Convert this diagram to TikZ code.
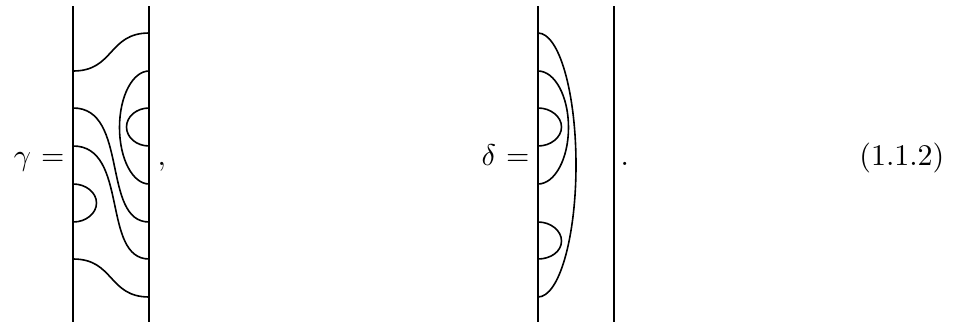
\documentclass[tikz,border=0pt]{standalone}
\usepackage{fontspec}
\begin{document}
\begin{tikzpicture}[x=1pt,y=-1pt,
  strandline/.style={line width=1.6pt,line cap=butt},
  wall/.style={line width=1.9pt},
  lbl/.style={inner sep=0pt,scale=3.0},
  tag/.style={inner sep=0pt,scale=3.0}]
\useasboundingbox (0,0) rectangle (956,322);
% gamma walls
\coordinate (gLt) at (73.2,6); \coordinate (gLb) at (73.2,322);
\coordinate (gRt) at (149.2,6); \coordinate (gRb) at (149.2,322);
\draw[wall] (gLt) -- (gLb);
\draw[wall] (gRt) -- (gRb);
% gamma strands
\coordinate (a1) at (73.2,71);  \coordinate (b1) at (149.2,33);
\coordinate (a2) at (149.2,71); \coordinate (p2) at (119.5,127.5); \coordinate (b2) at (149.2,184);
\coordinate (a3) at (149.2,108);\coordinate (p3) at (126.5,127);   \coordinate (b3) at (149.2,146);
\coordinate (a4) at (73.2,108); \coordinate (b4) at (149.2,222);
\coordinate (a5) at (73.2,146); \coordinate (b5) at (149.2,259);
\coordinate (a6) at (73.2,184); \coordinate (p6) at (96.5,203);    \coordinate (b6) at (73.2,222);
\coordinate (a7) at (73.2,259); \coordinate (b7) at (149.2,297);
\draw[strandline] (a1) to[out=0,in=180,out distance=41pt,in distance=41pt] (b1);
\draw[strandline] (a2) to[out=180,in=90,out distance=16.6pt,in distance=31.2pt] (p2)
                       to[out=-90,in=180,out distance=31.2pt,in distance=16.6pt] (b2);
\draw[strandline] (a3) to[out=180,in=90,out distance=12.7pt,in distance=10.5pt] (p3)
                       to[out=-90,in=180,out distance=10.5pt,in distance=12.7pt] (b3);
\draw[strandline] (a4) to[out=0,in=180,out distance=56pt,in distance=48pt] (b4);
\draw[strandline] (a5) to[out=0,in=180,out distance=56pt,in distance=48pt] (b5);
\draw[strandline] (a6) to[out=0,in=90,out distance=12.7pt,in distance=10.5pt] (p6)
                       to[out=-90,in=0,out distance=10.5pt,in distance=12.7pt] (b6);
\draw[strandline] (a7) to[out=0,in=180,out distance=41pt,in distance=41pt] (b7);
% delta walls
\coordinate (dLt) at (538,6); \coordinate (dLb) at (538,322);
\coordinate (dRt) at (614,6); \coordinate (dRb) at (614,322);
\draw[wall] (dLt) -- (dLb);
\draw[wall] (dRt) -- (dRb);
% delta strands
\coordinate (c1) at (538,33);  \coordinate (q1) at (576,165);     \coordinate (e1) at (538,297);
\coordinate (c2) at (538,71);  \coordinate (q2) at (568.5,127.5); \coordinate (e2) at (538,184);
\coordinate (c3) at (538,108); \coordinate (q3) at (561.5,127);   \coordinate (e3) at (538,146);
\coordinate (c4) at (538,222); \coordinate (q4) at (561.5,241);   \coordinate (e4) at (538,259);
\draw[strandline] (c1) to[out=0,in=90,out distance=21pt,in distance=73pt] (q1)
                       to[out=-90,in=0,out distance=73pt,in distance=21pt] (e1);
\draw[strandline] (c2) to[out=0,in=90,out distance=16.8pt,in distance=31.2pt] (q2)
                       to[out=-90,in=0,out distance=31.2pt,in distance=16.8pt] (e2);
\draw[strandline] (c3) to[out=0,in=90,out distance=12.7pt,in distance=10.5pt] (q3)
                       to[out=-90,in=0,out distance=10.5pt,in distance=12.7pt] (e3);
\draw[strandline] (c4) to[out=0,in=90,out distance=12.7pt,in distance=10.5pt] (q4)
                       to[out=-90,in=0,out distance=10.5pt,in distance=12.7pt] (e4);
% labels
\node[lbl,anchor=base east] (gl) at (65,165) {$\gamma\mkern1mu=$};
\node[lbl,anchor=base west] (cm) at (157,165) {$,$};
\node[lbl,anchor=base east] (dl) at (530,165) {$\delta\mkern1mu=$};
\node[lbl,anchor=base west] (pd) at (620,165) {$.$};
\node[tag,anchor=base east] (eq) at (945,165) {(1.1.2)};
\end{tikzpicture}
\end{document}
